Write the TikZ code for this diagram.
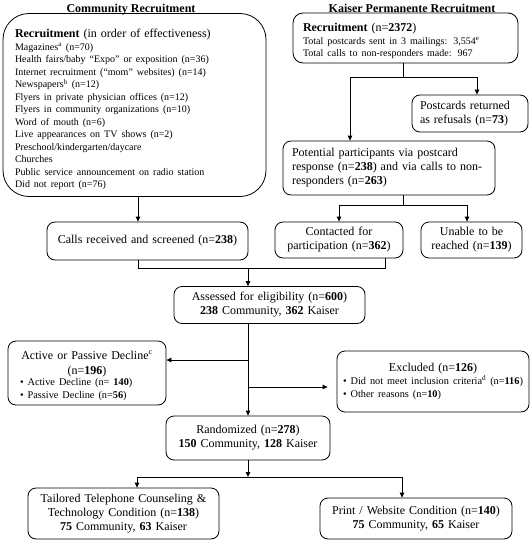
\documentclass[tikz,border=0pt]{standalone}
\usepackage{fontspec}
\setmainfont{Liberation Serif}
\usetikzlibrary{arrows.meta}
\tikzset{
  x=1pt, y=-1pt,
  box/.style={draw, line width=0.8pt, rounded corners=8pt, inner xsep=6pt, inner ysep=2pt,
    font=\fontsize{12}{14}\selectfont},
  ttl/.style={font=\fontsize{12}{14}\selectfont\bfseries, inner sep=0pt},
  conn/.style={line width=0.8pt},
  arr/.style={conn, -{Triangle[length=5pt,width=4.5pt]}},
}
\newcommand{\smallf}{\fontsize{10}{12.5}\selectfont}
\newcommand{\bulf}{\fontsize{10.3}{13}\selectfont}
\begin{document}
\begin{tikzpicture}
\useasboundingbox (0,0) rectangle (532,543);
% titles
\node[ttl, anchor=base] (t1) at (131,13) {Community Recruitment};
\node[ttl, anchor=base] (t2) at (412,13) {Kaiser Permanente Recruitment};
% community recruitment box
\node[box, rounded corners=26pt, minimum width=263pt, minimum height=183pt, text width=239pt, inner xsep=12pt, inner ysep=0pt, align=left] (comm) at (134.5,105) {%
\rule{0pt}{17.5pt}\textbf{Recruitment} (in order of effectiveness)\par\smallf
Magazines\textsuperscript{a} (n=70)\\
Health fairs/baby “Expo” or exposition (n=36)\\
Internet recruitment (“mom” websites) (n=14)\\
Newspapers\textsuperscript{b} (n=12)\\
Flyers in private physician offices (n=12)\\
Flyers in community organizations (n=10)\\
Word of mouth (n=6)\\
Live appearances on TV shows (n=2)\\
Preschool/kindergarten/daycare\\
Churches\\
Public service announcement on radio station\\
Did not report (n=76)\par\vspace{-9pt}};
% kaiser recruitment box
\node[box, rounded corners=10pt, minimum width=225pt, minimum height=50pt, text width=205pt, inner xsep=10pt, inner ysep=0pt, align=left] (kr) at (405.5,38) {%
\rule{0pt}{14.5pt}\textbf{Recruitment} (n=\textbf{2372})\par\smallf
Total postcards sent in 3 mailings: 3,554\textsuperscript{e}\\
Total calls to non-responders made: 967\par\vspace{-6pt}};
\node[box, minimum width=116pt, minimum height=37pt, text width=100pt, inner xsep=8pt, align=left] (post) at (470,113.5) {Postcards returned\\ as refusals (n=\textbf{73})};
\node[box, minimum width=212pt, minimum height=54pt, text width=194pt, inner xsep=9pt, align=left] (pot) at (389,168) {Potential participants via postcard\\ response (n=\textbf{238}) and via calls to non-\\ responders (n=\textbf{263})};
\node[box, minimum width=128pt, minimum height=36pt, text width=116pt, align=center] (cont) at (339,240) {Contacted for\\ participation (n=\textbf{362})};
\node[box, minimum width=101pt, minimum height=36pt, text width=89pt, align=center] (unab) at (471.5,240) {Unable to be\\ reached (n=\textbf{139})};
\node[box, minimum width=201pt, minimum height=38pt, text width=189pt, align=center] (calls) at (147.5,241) {Calls received and screened (n=\textbf{238})};
\node[box, minimum width=191pt, minimum height=37pt, text width=179pt, align=center] (ass) at (269.5,305) {Assessed for eligibility (n=\textbf{600})\\ \textbf{238} Community, \textbf{362} Kaiser};
\node[box, minimum width=158pt, minimum height=64pt, text width=146pt, inner ysep=0pt, align=center] (act) at (87,373) {\rule{0pt}{13.5pt}Active or Passive Decline\textsuperscript{c}\\[1pt] (n=\textbf{196})\par
\parbox{146pt}{\raggedright\bulf\hspace*{6pt}\textbullet\hspace{4pt}Active Decline (n= \textbf{140})\\ \hspace*{6pt}\textbullet\hspace{4pt}Passive Decline (n=\textbf{56})}\par\vspace{-6pt}};
\node[box, minimum width=192pt, minimum height=61pt, text width=180pt, align=center] (exc) at (433,381.5) {Excluded (n=\textbf{126})\par
\parbox{180pt}{\raggedright\bulf\textbullet\hspace{4pt}Did not meet inclusion criteria\textsuperscript{d} (n=\textbf{116})\\ \textbullet\hspace{4pt}Other reasons (n=\textbf{10})}\par\vspace{13pt}};
\node[box, minimum width=164pt, minimum height=44pt, text width=152pt, align=center] (rand) at (248,438) {Randomized (n=\textbf{278})\\ \textbf{150} Community, \textbf{128} Kaiser};
\node[box, minimum width=191pt, minimum height=51pt, text width=179pt, align=center] (tail) at (123.5,513.5) {Tailored Telephone Counseling \&\\ Technology Condition (n=\textbf{138})\\ \textbf{75} Community, \textbf{63} Kaiser};
\node[box, minimum width=192pt, minimum height=41pt, text width=180pt, align=center] (print) at (416,518.5) {Print / Website Condition (n=\textbf{140})\\ \textbf{75} Community, \textbf{65} Kaiser};
% junction coordinates
\coordinate (xa) at (138,0);
\coordinate (xc) at (385,0);
\coordinate (j1) at (248,268);
\coordinate (j2) at (403,77);
\coordinate (j2l) at (350,77);
\coordinate (j2r) at (477,77);
\coordinate (j3) at (403,205);
\coordinate (j3l) at (339,205);
\coordinate (j3r) at (467,205);
\coordinate (ja) at (248,360);
\coordinate (jb) at (248,387);
\coordinate (jr) at (248,477);
\coordinate (jrl) at (137,477);
\coordinate (jrr) at (402,477);
% connectors
\draw[arr] (comm.south -| xa) -- (calls.north -| xa);
\draw[conn] (calls.south -| xa) |- (j1);
\draw[conn] (cont.south -| xc) |- (j1);
\draw[arr] (j1) -- (ass.north -| j1);
\draw[arr] (kr.south -| j2) |- (j2l) -- (pot.north -| j2l);
\draw[arr] (j2) -| (post.north -| j2r);
\draw[arr] (pot.south -| j3) |- (j3l) -- (cont.north -| j3l);
\draw[arr] (j3) -| (unab.north -| j3r);
\draw[arr] (ass.south -| j1) -- (rand.north -| j1);
\draw[arr] (ja) -- (act.east |- ja);
\draw[arr, shorten >=9pt] (jb) -- (exc.west |- jb);
\draw[arr] (rand.south -| jr) -- (jr);
\draw[arr] (jr) -| (tail.north -| jrl);
\draw[arr] (jr) -| (print.north -| jrr);
\end{tikzpicture}
\end{document}
